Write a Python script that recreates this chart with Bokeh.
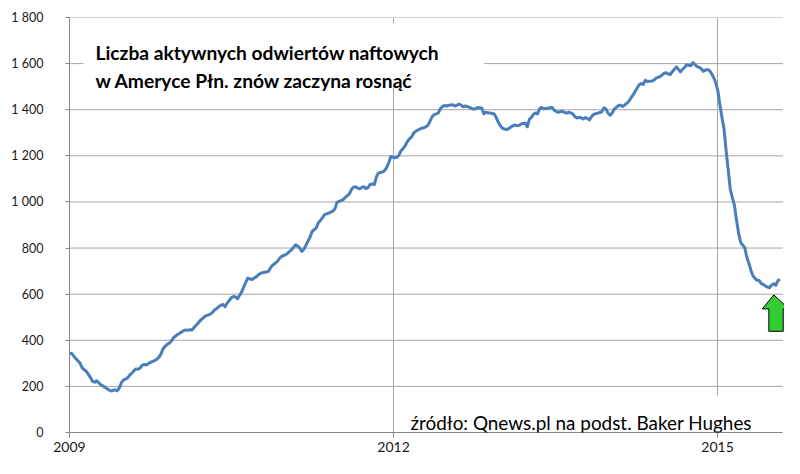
import numpy as np
import pandas as pd
from bokeh.plotting import figure
from bokeh.models import FixedTicker, Label, BoxAnnotation
from bokeh.embed import file_html
from bokeh.resources import INLINE

# Weekly count of active oil rigs (Fridays)
rigs_2009 = [345, 342, 330, 320, 310, 300, 280, 272, 265, 252, 238, 222, 218, 224, 215,
             207, 202, 196, 190, 184, 180, 183, 185, 181, 195, 218, 228, 232, 238, 250,
             258, 268, 276, 274, 280, 292, 295, 293, 299, 304, 308, 312, 318, 326, 340,
             362, 374, 382, 387, 396, 410, 418]
rigs_2010 = [425, 430, 436, 442, 445, 443, 446, 445, 455, 465, 475, 486, 494, 502, 508,
             510, 514, 522, 532, 538, 546, 552, 555, 546, 562, 572, 585, 590, 588, 580,
             596, 610, 632, 652, 670, 666, 664, 670, 675, 684, 690, 693, 695, 696, 700,
             716, 726, 733, 740, 752, 762, 767, 770]
rigs_2011 = [776, 784, 792, 803, 814, 808, 800, 785, 795, 812, 830, 848, 872, 880, 888,
             910, 920, 932, 945, 948, 952, 956, 960, 970, 998, 1002, 1006, 1010, 1020, 1027,
             1035, 1055, 1064, 1066, 1060, 1057, 1063, 1066, 1058, 1062, 1076, 1078, 1075,
             1108, 1125, 1128, 1130, 1136, 1150, 1170, 1197, 1194]
rigs_2012 = [1192, 1194, 1205, 1223, 1232, 1245, 1262, 1274, 1282, 1298, 1306, 1312, 1316,
             1320, 1322, 1326, 1333, 1352, 1370, 1379, 1382, 1386, 1405, 1414, 1418, 1416,
             1419, 1420, 1422, 1416, 1419, 1425, 1420, 1413, 1416, 1414, 1410, 1406, 1403,
             1404, 1410, 1408, 1408, 1382, 1389, 1387, 1386, 1384, 1382, 1366, 1346, 1330]
rigs_2013 = [1320, 1316, 1314, 1318, 1324, 1330, 1334, 1330, 1332, 1338, 1340, 1342, 1326,
             1358, 1367, 1380, 1386, 1382, 1405, 1410, 1404, 1405, 1407, 1409, 1410, 1398,
             1392, 1389, 1392, 1393, 1388, 1385, 1389, 1386, 1382, 1370, 1364, 1367, 1365,
             1360, 1366, 1362, 1356, 1370, 1379, 1383, 1385, 1388, 1391, 1408, 1403, 1385]
rigs_2014 = [1376, 1385, 1403, 1410, 1418, 1420, 1414, 1420, 1428, 1436, 1450, 1463, 1478,
             1493, 1508, 1514, 1510, 1528, 1522, 1524, 1524, 1527, 1536, 1540, 1543, 1550,
             1558, 1560, 1556, 1552, 1565, 1575, 1586, 1575, 1564, 1576, 1584, 1595, 1593,
             1591, 1604, 1596, 1587, 1584, 1578, 1567, 1572, 1574, 1570, 1556, 1540, 1517]
rigs_2015 = [1482, 1421, 1366, 1317, 1223, 1140, 1056, 1019, 986, 922, 866, 825, 813, 802,
             760, 734, 703, 679, 668, 660, 659, 646, 642, 635, 631, 628, 640, 645, 638,
             659, 664]

first_week = "2009-01-02"
x_ticks = [2009, 2012, 2015]
y_ticks = [0, 200, 400, 600, 800, 1000, 1200, 1400, 1600, 1800]
y_tick_labels = ["0", "200", "400", "600", "800", "1 000", "1 200", "1 400", "1 600", "1 800"]

title_lines = ["Liczba aktywnych odwiertów naftowych", "w Ameryce Płn. znów zaczyna rosnąć"]
source_text = "źródło: Qnews.pl na podst. Baker Hughes"

values = rigs_2009 + rigs_2010 + rigs_2011 + rigs_2012 + rigs_2013 + rigs_2014 + rigs_2015
dates = pd.date_range(first_week, periods=len(values), freq="7D")
xdec = dates.year + (dates.dayofyear - 1) / (365 + dates.is_leap_year.astype(int))
xdec = np.asarray(xdec, dtype=float)

X0, XEND, XDATA_END = 2009.0, 2015.620, 2015.606

FONT = "Lato"
GRID = "#a6a6a6"
AXIS = "#868686"
TXT = "#1a1a1a"

p = figure(width=784, height=458, output_backend="svg", toolbar_location=None,
           x_range=(X0, XEND), y_range=(0, 1800),
           min_border_left=69, min_border_right=0, min_border_top=17, min_border_bottom=26)
p.outline_line_color = None
p.background_fill_color = "white"
p.border_fill_color = "white"

# grids
p.ygrid.visible = False
p.segment(x0=[X0] * len(y_ticks), x1=[XDATA_END] * len(y_ticks), y0=y_ticks, y1=y_ticks,
          line_color=GRID, line_width=1, level="underlay")
p.xgrid.ticker = FixedTicker(ticks=x_ticks)
p.xgrid.grid_line_color = GRID

# axes
p.xaxis.ticker = FixedTicker(ticks=x_ticks)
p.xaxis.bounds = (X0, XDATA_END)
p.xaxis.axis_line_color = AXIS
p.xaxis.major_tick_line_color = AXIS
p.xaxis.major_tick_out = 5
p.xaxis.major_tick_in = 0
p.xaxis.minor_tick_line_color = None
p.xaxis.major_label_text_font = FONT
p.xaxis.major_label_text_font_size = "14px"
p.xaxis.major_label_text_color = TXT
p.xaxis.major_label_standoff = 4

p.yaxis.ticker = FixedTicker(ticks=y_ticks)
p.yaxis.major_label_overrides = {t: l for t, l in zip(y_ticks, y_tick_labels)}
p.yaxis.axis_line_color = AXIS
p.yaxis.major_tick_line_color = AXIS
p.yaxis.major_tick_out = 4
p.yaxis.major_tick_in = 0
p.yaxis.minor_tick_line_color = None
p.yaxis.major_label_text_font = FONT
p.yaxis.major_label_text_font_size = "12.5px"
p.yaxis.major_label_text_color = TXT
p.yaxis.major_label_standoff = 22

# white boxes behind texts (hide grid lines like in the original)
p.add_layout(BoxAnnotation(left=2009.13, right=2012.84, bottom=1505, top=1774,
                           fill_color="white", fill_alpha=1, line_color=None, level="glyph"))
p.add_layout(BoxAnnotation(left=2012.11, right=2015.37, bottom=6, top=160,
                           fill_color="white", fill_alpha=1, line_color=None, level="glyph"))

# data line
p.line(xdec, values, line_color="#4a7ebb", line_width=3, line_join="round")

# title texts
for txt, yb in zip(title_lines, [1648, 1526]):
    p.add_layout(Label(x=2009.241, y=yb, text=txt, text_font=FONT, text_font_style="bold",
                       text_font_size="19.2px", text_color="black", text_baseline="alphabetic"))
p.add_layout(Label(x=2012.157, y=43, text=source_text, text_font=FONT,
                   text_font_size="18.9px", text_color="black", text_baseline="alphabetic"))

# green arrow
ax = [2015.521, 2015.660, 2015.608, 2015.608, 2015.475, 2015.475, 2015.414]
ay = [597, 536, 536, 439, 439, 536, 536]
p.patch(ax, ay, fill_color="#33cc33", line_color="black", line_width=1)

open("out.html", "w").write(file_html(p, INLINE))
